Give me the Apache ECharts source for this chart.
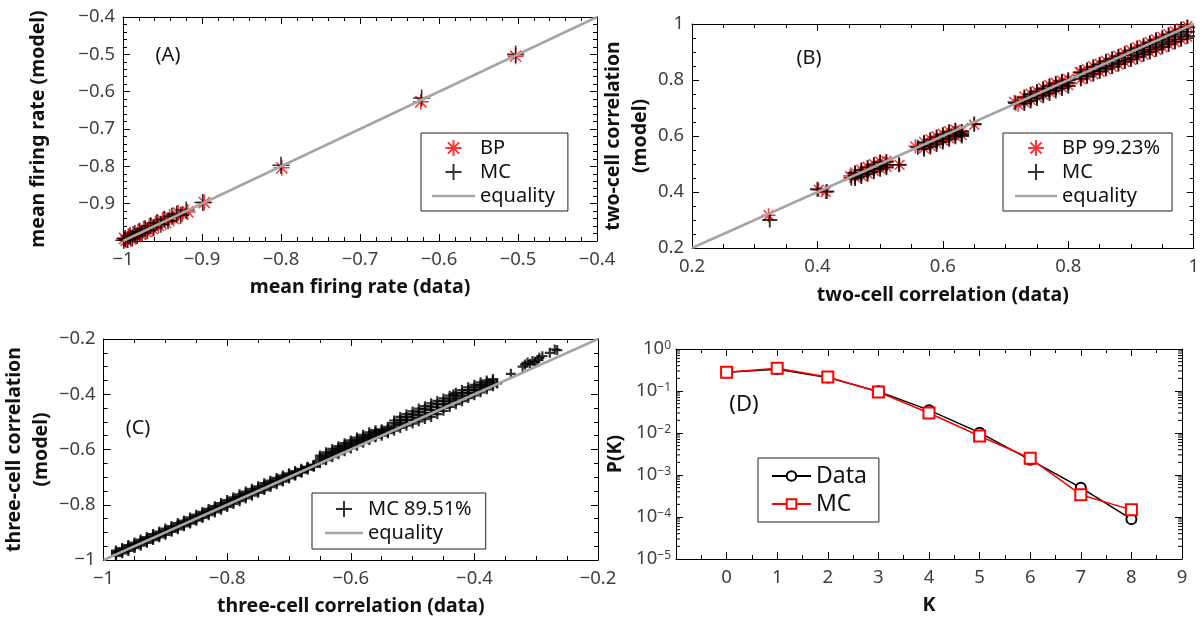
<!DOCTYPE html>
<html><head><meta charset="utf-8">
<script src="https://cdn.jsdelivr.net/npm/echarts@6.0.0/dist/echarts.min.js"></script>
<style>html,body{margin:0;padding:0;background:#fff}#c{width:1202px;height:621px}</style>
</head><body><div id="c"></div><script>
// ---------- Panel A: mean firing rate ----------
const aBP = [[-0.503,-0.505],[-0.623,-0.627],[-0.799,-0.804],[-0.897,-0.897],[-0.918,-0.922],[-0.925,-0.928],[-0.930,-0.925],[-0.936,-0.940],[-0.941,-0.936],[-0.946,-0.950],[-0.950,-0.944],[-0.955,-0.958],[-0.959,-0.953],[-0.963,-0.967],[-0.967,-0.961],[-0.971,-0.975],[-0.974,-0.968],[-0.978,-0.982],[-0.981,-0.976],[-0.984,-0.988],[-0.987,-0.982],[-0.990,-0.994],[-0.993,-0.988],[-0.996,-0.998],[-0.998,-0.993]];
const aMC = [[-0.503,-0.500],[-0.622,-0.617],[-0.800,-0.797],[-0.899,-0.897],[-0.920,-0.917],[-0.927,-0.931],[-0.932,-0.928],[-0.938,-0.934],[-0.943,-0.946],[-0.948,-0.942],[-0.952,-0.955],[-0.957,-0.951],[-0.961,-0.964],[-0.965,-0.959],[-0.969,-0.972],[-0.972,-0.967],[-0.976,-0.979],[-0.979,-0.974],[-0.982,-0.985],[-0.985,-0.980],[-0.988,-0.991],[-0.991,-0.986],[-0.994,-0.996],[-0.997,-0.993],[-0.999,-0.998]];
const aEq = [[-1,-1],[-0.4,-0.4]];

// ---------- Panel B: two-cell correlation ----------
const bIsoBP = [[0.322,0.317],[0.402,0.408],[0.413,0.400],[0.452,0.457],[0.531,0.497],[0.556,0.563],[0.650,0.640],[0.714,0.722],[0.720,0.712],[0.818,0.828]];
const bIsoMC = [[0.324,0.300],[0.400,0.410],[0.415,0.402],[0.454,0.450],[0.530,0.497],[0.560,0.560],[0.650,0.643],[0.716,0.718]];
const bX    = [0.46,0.47,0.48,0.49,0.50,0.51, 0.57,0.58,0.59,0.60,0.61,0.62,0.63, 0.73,0.74,0.75,0.76,0.77,0.78,0.79,0.80, 0.82,0.83,0.84,0.85,0.86,0.87,0.88,0.89,0.90,0.91,0.92,0.93,0.94,0.95,0.96,0.97,0.98,0.99];
const bMChi = [0.468,0.478,0.487,0.497,0.506,0.508, 0.576,0.586,0.595,0.604,0.614,0.620,0.615, 0.738,0.748,0.758,0.768,0.778,0.787,0.795,0.800, 0.826,0.836,0.846,0.855,0.866,0.875,0.884,0.894,0.904,0.913,0.922,0.932,0.942,0.951,0.960,0.970,0.980,0.988];
const bMCmd = [0.458,0.466,0.475,0.484,0.493,0.497, 0.565,0.574,0.583,0.592,0.601,0.609,0.607, 0.727,0.737,0.746,0.756,0.765,0.774,0.783,0.790, 0.815,0.825,0.834,0.843,0.852,0.861,0.870,0.879,0.889,0.898,0.907,0.917,0.926,0.935,0.944,0.954,0.963,0.972];
const bMClo = [0.448,0.455,0.463,0.472,0.481,0.487, 0.553,0.561,0.570,0.579,0.588,0.597,0.600, 0.716,0.725,0.734,0.744,0.752,0.761,0.770,0.778, 0.805,0.814,0.822,0.831,0.840,0.848,0.857,0.866,0.874,0.883,0.892,0.901,0.910,0.919,0.928,0.937,0.946,0.956];
const bBPhi = [0.470,0.480,0.490,0.500,0.509,0.511, 0.579,0.589,0.599,0.608,0.617,0.623,0.619, 0.741,0.751,0.761,0.772,0.782,0.790,0.798,0.803, 0.829,0.839,0.849,0.858,0.869,0.878,0.887,0.897,0.907,0.917,0.926,0.936,0.946,0.955,0.964,0.974,0.984,0.992];
const bBPlo = [0.452,0.458,0.466,0.476,0.484,0.490, 0.556,0.566,0.574,0.584,0.592,0.600,0.603, 0.720,0.729,0.738,0.748,0.757,0.766,0.774,0.782, 0.802,0.811,0.820,0.829,0.838,0.846,0.855,0.864,0.872,0.881,0.890,0.899,0.908,0.917,0.926,0.935,0.944,0.954];
const bEq = [[0.2,0.2],[1,1]];

// ---------- Panel C: three-cell correlation (band read as five rows across its width) ----------
const cX = [-0.98,-0.97,-0.96,-0.95,-0.94,-0.93,-0.92,-0.91,-0.90,-0.89,-0.88,-0.87,-0.86,-0.85,-0.84,-0.83,-0.82,-0.81,-0.80,-0.79,-0.78,-0.77,-0.76,-0.75,-0.74,-0.73,-0.72,-0.71,-0.70,-0.69,-0.68,-0.67,-0.66,-0.65,-0.64,-0.63,-0.62,-0.61,-0.60,-0.59,-0.58,-0.57,-0.56,-0.55,-0.54,-0.53,-0.52,-0.51,-0.50,-0.49,-0.48,-0.47,-0.46,-0.45,-0.44,-0.43,-0.42,-0.41,-0.40,-0.39,-0.38,-0.37];
const cHi = [-0.966,-0.957,-0.946,-0.937,-0.926,-0.917,-0.906,-0.897,-0.886,-0.877,-0.866,-0.857,-0.846,-0.836,-0.826,-0.815,-0.805,-0.794,-0.783,-0.773,-0.762,-0.752,-0.742,-0.733,-0.722,-0.713,-0.703,-0.694,-0.686,-0.678,-0.670,-0.662,-0.655,-0.622,-0.610,-0.598,-0.588,-0.577,-0.567,-0.557,-0.547,-0.538,-0.530,-0.527,-0.518,-0.495,-0.482,-0.472,-0.462,-0.452,-0.443,-0.433,-0.424,-0.415,-0.405,-0.395,-0.385,-0.375,-0.366,-0.357,-0.350,-0.345];
const cQ1 = [-0.970,-0.961,-0.951,-0.942,-0.931,-0.922,-0.911,-0.902,-0.892,-0.882,-0.872,-0.862,-0.852,-0.841,-0.831,-0.821,-0.810,-0.800,-0.789,-0.779,-0.768,-0.758,-0.748,-0.739,-0.728,-0.718,-0.709,-0.699,-0.690,-0.682,-0.673,-0.665,-0.657,-0.629,-0.617,-0.606,-0.595,-0.584,-0.574,-0.564,-0.554,-0.545,-0.536,-0.532,-0.524,-0.504,-0.492,-0.482,-0.473,-0.463,-0.454,-0.445,-0.436,-0.426,-0.416,-0.405,-0.395,-0.385,-0.375,-0.366,-0.358,-0.351];
const cMid = [-0.975,-0.966,-0.956,-0.947,-0.937,-0.927,-0.917,-0.907,-0.897,-0.888,-0.877,-0.868,-0.857,-0.847,-0.837,-0.826,-0.816,-0.806,-0.795,-0.785,-0.774,-0.764,-0.754,-0.745,-0.734,-0.724,-0.714,-0.705,-0.695,-0.686,-0.677,-0.667,-0.659,-0.636,-0.625,-0.613,-0.602,-0.592,-0.581,-0.571,-0.561,-0.552,-0.543,-0.538,-0.530,-0.513,-0.502,-0.493,-0.484,-0.475,-0.466,-0.457,-0.448,-0.437,-0.426,-0.416,-0.405,-0.395,-0.385,-0.375,-0.366,-0.358];
const cQ3 = [-0.980,-0.971,-0.961,-0.952,-0.943,-0.933,-0.923,-0.913,-0.903,-0.893,-0.883,-0.873,-0.863,-0.853,-0.843,-0.832,-0.822,-0.812,-0.802,-0.791,-0.781,-0.771,-0.761,-0.751,-0.741,-0.730,-0.720,-0.711,-0.700,-0.691,-0.681,-0.670,-0.661,-0.643,-0.632,-0.621,-0.610,-0.599,-0.589,-0.579,-0.569,-0.559,-0.550,-0.544,-0.536,-0.523,-0.512,-0.504,-0.495,-0.487,-0.478,-0.470,-0.460,-0.449,-0.436,-0.426,-0.415,-0.405,-0.395,-0.384,-0.374,-0.365];
const cLo = [-0.985,-0.976,-0.967,-0.957,-0.948,-0.938,-0.928,-0.918,-0.909,-0.898,-0.889,-0.878,-0.868,-0.858,-0.848,-0.838,-0.828,-0.818,-0.808,-0.797,-0.787,-0.777,-0.767,-0.757,-0.747,-0.736,-0.726,-0.716,-0.705,-0.695,-0.684,-0.673,-0.662,-0.650,-0.639,-0.628,-0.617,-0.606,-0.596,-0.586,-0.576,-0.566,-0.557,-0.550,-0.541,-0.532,-0.522,-0.514,-0.506,-0.498,-0.490,-0.482,-0.472,-0.460,-0.446,-0.436,-0.425,-0.414,-0.404,-0.393,-0.382,-0.371];
const cExtra = [[-0.434,-0.400],[-0.363,-0.361],[-0.341,-0.326],[-0.322,-0.300],[-0.318,-0.292],[-0.314,-0.285],[-0.310,-0.290],[-0.306,-0.280],[-0.302,-0.284],[-0.298,-0.276],[-0.295,-0.268],[-0.290,-0.262],[-0.278,-0.250],[-0.270,-0.238],[-0.266,-0.240]];
const cEq = [[-1,-1],[-0.2,-0.2]];

// ---------- Panel D: P(K) ----------
const dK = [0,1,2,3,4,5,6,7,8];
const dData = [0.28,0.33,0.21,0.098,0.035,0.0102,0.0023,0.0005,0.000089];
const dMC = [0.28,0.35,0.215,0.095,0.030,0.0085,0.0025,0.00034,0.000148];

// ---------- helpers ----------
const FONT = 'Noto Sans';
const TICKC = '#404040';
const minus = v => String(+(+v).toFixed(3)).replace(/-/g, '\u2212');
const symAst = 'path://M0,-10L0,10M-10,0L10,0M-7,-7L7,7M-7,7L7,-7';
const symPlus = 'path://M0,-10L0,10M-10,0L10,0';
const eqIcon = 'path://M0,0h42v2.5h-42z';
const black = {color:'#000', width:1};
const nameStyle = {fontFamily:FONT, fontSize:19.5, fontWeight:'bold', color:'#111', lineHeight:27};

function xPair(g, min, max, interval, minor, name, gap, extra) {
  const base = {type:'value', gridIndex:g, min, max, interval,
    axisLine:{show:true, onZero:false, lineStyle:black},
    axisTick:{show:true, inside:true, length:7, lineStyle:black},
    minorTick:{show:true, splitNumber:minor, length:4, lineStyle:black},
    splitLine:{show:false}, minorSplitLine:{show:false}};
  return [
    Object.assign({}, base, {position:'bottom', name, nameLocation:'middle', nameGap:gap, nameTextStyle:nameStyle,
      axisLabel:Object.assign({fontFamily:FONT, fontSize:18.5, color:TICKC, margin:9, formatter:minus}, extra||{})}),
    Object.assign({}, base, {position:'top', axisLabel:{show:false}})
  ];
}
function yPair(g, min, max, interval, minor, name, gap, extra) {
  const base = {type:'value', gridIndex:g, min, max, interval,
    axisLine:{show:true, onZero:false, lineStyle:black},
    axisTick:{show:true, inside:true, length:7, lineStyle:black},
    minorTick:{show:true, splitNumber:minor, length:4, lineStyle:black},
    splitLine:{show:false}, minorSplitLine:{show:false}};
  return [
    Object.assign({}, base, {position:'left', name, nameLocation:'middle', nameGap:gap, nameRotate:90, nameTextStyle:nameStyle,
      axisLabel:Object.assign({fontFamily:FONT, fontSize:18.5, color:TICKC, margin:8, formatter:minus}, extra||{})}),
    Object.assign({}, base, {position:'right', axisLabel:{show:false}})
  ];
}

const xAxes = [].concat(
  xPair(0, -1, -0.4, 0.1, 5, 'mean firing rate (data)', 33),
  xPair(1, 0.2, 1, 0.2, 4, 'two-cell correlation (data)', 34),
  xPair(2, -1, -0.2, 0.2, 4, 'three-cell correlation (data)', 33),
  xPair(3, -1, 9, 1, 2, 'K', 33, {showMinLabel:false})
);
const logBase = {type:'log', gridIndex:3, min:1e-5, max:1, logBase:10,
  axisLine:{show:true, onZero:false, lineStyle:black},
  axisTick:{show:true, inside:true, length:7, lineStyle:black},
  minorTick:{show:false}, splitLine:{show:false}};
const yAxes = [].concat(
  yPair(0, -1, -0.4, 0.1, 5, 'mean firing rate (model)', 71, {showMinLabel:false}),
  yPair(1, 0.2, 1, 0.2, 4, 'two-cell correlation\n(model)', 34),
  yPair(2, -1, -0.2, 0.2, 4, 'three-cell correlation\n(model)', 45),
  [Object.assign({}, logBase, {position:'left', name:'P(K)', nameLocation:'middle', nameGap:47, nameRotate:90, nameTextStyle:nameStyle,
     axisLabel:{margin:5, formatter: v => { const e = Math.round(Math.log10(v)); return '{b|10}{s|' + (e < 0 ? '\u2212' + (-e) : e) + '}'; },
       rich:{b:{fontFamily:FONT, fontSize:18.5, color:TICKC}, s:{fontFamily:FONT, fontSize:12, color:TICKC, verticalAlign:'top'}}}}),
   Object.assign({}, logBase, {position:'right', axisLabel:{show:false}})]
);

// minor log tick positions for panel D (axis decoration only)
const logMinor = [];
for (let e = -5; e < 0; e++) for (let m = 2; m <= 9; m++) logMinor.push([-1, m * Math.pow(10, e)]);

function scatter(name, data, xi, sym, size, color, z, bw) {
  return {type:'scatter', name, data, xAxisIndex:xi, yAxisIndex:xi, symbol:sym, symbolSize:size, z,
    itemStyle:{color:'rgba(0,0,0,0)', borderColor:color, borderWidth:bw || 1.4}, emphasis:{disabled:true}, silent:true, clip:true};
}
function eqLine(name, data, xi) {
  return {type:'line', name, data, xAxisIndex:xi, yAxisIndex:xi, symbol:'none', z:5, silent:true,
    lineStyle:{color:'#a5a5a5', width:2.5}, itemStyle:{color:'#a5a5a5'}};
}
const bBP = [], bMC = [];
bX.forEach((x, i) => { bBP.push([x, bBPhi[i]], [x, bBPlo[i]]); bMC.push([x, bMChi[i]], [x, bMCmd[i]], [x, bMClo[i]]); });
bIsoBP.forEach(p => bBP.push(p)); bIsoMC.forEach(p => bMC.push(p));
const cPts = [];
cX.forEach((x, i) => { cPts.push([x, cHi[i]], [x, cQ1[i]], [x, cMid[i]], [x, cQ3[i]], [x, cLo[i]]); });
cExtra.forEach(p => cPts.push(p));

const series = [
  scatter('BP', aBP, 0, symAst, 16, '#ff0000', 2, 1.5),
  scatter('MC_A', aMC, 0, symPlus, 17, '#000', 3, 1.6),
  eqLine('equality_A', aEq, 0),
  scatter('BP 99.23%', bBP, 2, symAst, 14, '#ff0000', 2, 1.5),
  scatter('MC_B', bMC, 2, symPlus, 15, '#000', 3, 1.9),
  eqLine('equality_B', bEq, 2),
  scatter('MC 89.51%', cPts, 4, symPlus, 10, '#000', 3, 2.2),
  eqLine('equality_C', cEq, 4),
  {type:'line', name:'Data', xAxisIndex:6, yAxisIndex:6, data:dK.map((k,i)=>[k, dData[i]]), symbol:'emptyCircle', symbolSize:10, z:3,
    lineStyle:{color:'#000', width:1.5}, itemStyle:{color:'#000', borderWidth:1.5}, silent:true},
  {type:'line', name:'MC_D', xAxisIndex:6, yAxisIndex:6, data:dK.map((k,i)=>[k, dMC[i]]), symbol:'emptyRect', symbolSize:11, z:4,
    lineStyle:{color:'#ff0000', width:1.5}, itemStyle:{color:'#ff0000', borderWidth:1.5}, silent:true},
  {type:'custom', name:'minorLog', xAxisIndex:6, yAxisIndex:6, data:logMinor, silent:true, clip:false, z:6,
    renderItem:(params, api) => {
      const y = api.coord([-1, api.value(1)])[1]; const cs = params.coordSys;
      return {type:'group', children:[
        {type:'line', shape:{x1:cs.x, y1:y, x2:cs.x+4, y2:y}, style:{stroke:'#000', lineWidth:1}},
        {type:'line', shape:{x1:cs.x+cs.width-4, y1:y, x2:cs.x+cs.width, y2:y}, style:{stroke:'#000', lineWidth:1}}]};
    }}
];

const legendCommon = {orient:'vertical', selectedMode:false, backgroundColor:'#fff', borderColor:'#222', borderWidth:1, borderRadius:0,
  itemGap:2, itemWidth:43, itemHeight:16, align:'left',
  formatter: n => n.replace(/_[A-D]$/, ''),
  textStyle:{fontFamily:FONT, fontSize:20, color:'#111', lineHeight:22}};

const option = {
  animation:false, backgroundColor:'#fff',
  grid:[
    {left:123, top:17, width:474, height:224},
    {left:692, top:24, width:507, height:224},
    {left:103, top:339, width:495, height:228},
    {left:676, top:349, width:506, height:210}
  ],
  xAxis:xAxes, yAxis:yAxes, series,
  legend:[
    Object.assign({}, legendCommon, {data:['BP','MC_A',{name:'equality_A', icon:eqIcon}], left:421, top:133, padding:[4,13,4,11]}),
    Object.assign({}, legendCommon, {data:['BP 99.23%','MC_B',{name:'equality_B', icon:eqIcon}], left:1003, top:133, itemWidth:42, padding:[4,12,4,12]}),
    Object.assign({}, legendCommon, {data:['MC 89.51%',{name:'equality_C', icon:eqIcon}], left:312, top:493, itemWidth:38, padding:[5,14,5,13]}),
    Object.assign({}, legendCommon, {data:['Data','MC_D'], left:758, top:458, itemWidth:39, itemHeight:12, itemGap:2, padding:[5,12,5,13],
      textStyle:{fontFamily:FONT, fontSize:23, color:'#111', lineHeight:26}})
  ],
  graphic:[
    {type:'text', x:168, y:55, style:{text:'(A)', font:'20px "Noto Sans"', fill:'#111', textAlign:'center', textVerticalAlign:'middle'}},
    {type:'text', x:809, y:58, style:{text:'(B)', font:'20px "Noto Sans"', fill:'#111', textAlign:'center', textVerticalAlign:'middle'}},
    {type:'text', x:138, y:428, style:{text:'(C)', font:'20px "Noto Sans"', fill:'#111', textAlign:'center', textVerticalAlign:'middle'}},
    {type:'text', x:744, y:405, style:{text:'(D)', font:'22px "Noto Sans"', fill:'#111', textAlign:'center', textVerticalAlign:'middle'}}
  ]
};
const chart = echarts.init(document.getElementById('c'), null, {renderer:'canvas'});
chart.setOption(option);
</script></body></html>
